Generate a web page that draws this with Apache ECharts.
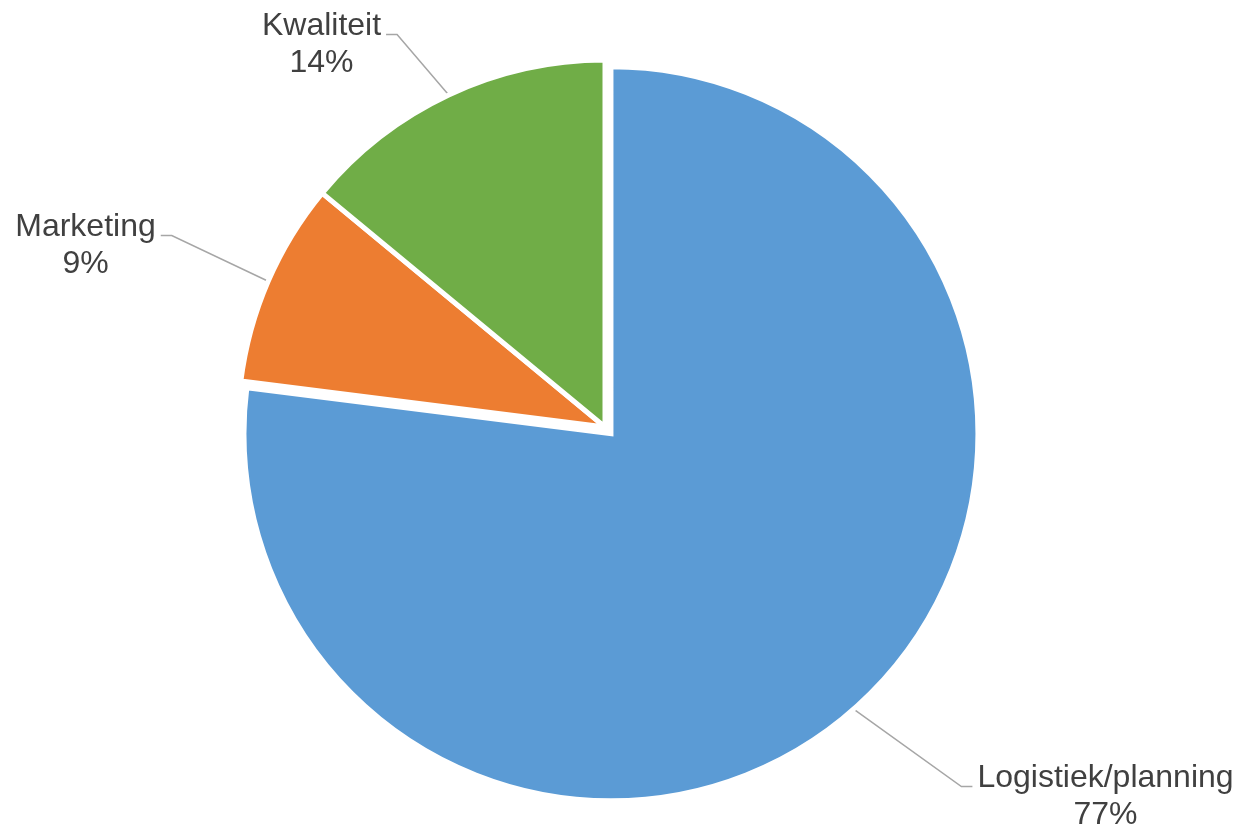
<!DOCTYPE html>
<html>
<head>
<meta charset="utf-8">
<script src="https://cdn.jsdelivr.net/npm/echarts@6/dist/echarts.min.js"></script>
<style>
html,body{margin:0;padding:0;background:#fff;}
#chart{width:1238px;height:828px;}
</style>
</head>
<body>
<div id="chart"></div>
<script>
const categories = ['Logistiek/planning', 'Marketing', 'Kwaliteit'];
const values = [77, 9, 14];
const colors = ['#5B9BD5', '#ED7D31', '#70AD47'];
const exploded = [true, false, false];

// label layout anchors (centre of text block) and which side the leader line enters from
const labelAnchors = [[1105.5, 797, 'left'], [85.5, 246, 'right'], [321.5, 45, 'right']];

const CX = 605, CY = 427, R = 367, EXPLODE = 9;
const total = values.reduce((a, b) => a + b, 0);
// mid-angles of slices, measured clockwise from 12 o'clock
let cum = 0;
const midAngles = values.map(v => { const m = (cum + v / 2) / total * 2 * Math.PI; cum += v; return m; });
const exIdx = exploded.indexOf(true);
const dx = EXPLODE * Math.sin(midAngles[exIdx]);
const dy = -EXPLODE * Math.cos(midAngles[exIdx]);

function labelLayout(params) {
  const a = labelAnchors[params.dataIndex];
  const w = params.labelRect.width;
  const h = params.labelRect.height;
  const lineY = a[1] - h / 2 + 26.5;
  let end, elbow;
  if (a[2] === 'left') {
    end = [a[0] - w / 2 - 5, lineY];
    elbow = [end[0] - 11, lineY];
  } else {
    end = [a[0] + w / 2 + 5, lineY];
    elbow = [end[0] + 11, lineY];
  }
  const start = params.labelLinePoints ? params.labelLinePoints[0] : elbow;
  return {
    x: a[0], y: a[1], align: 'center', verticalAlign: 'middle',
    labelLinePoints: [start, elbow, end]
  };
}

function makeSeries(isExploded) {
  return {
    type: 'pie',
    center: isExploded ? [CX + dx, CY + dy] : [CX, CY],
    radius: [0, R],
    startAngle: 90,
    clockwise: true,
    avoidLabelOverlap: false,
    silent: true,
    itemStyle: { borderColor: '#ffffff', borderWidth: 5, borderJoin: 'miter' },
    label: {
      show: true,
      position: 'outside',
      color: '#404040',
      fontFamily: 'Liberation Sans, Arial, sans-serif',
      fontSize: 32,
      lineHeight: 37,
      align: 'center',
      formatter: p => p.name + '\n' + Math.round(p.percent) + '%'
    },
    labelLine: { show: true, lineStyle: { color: '#A6A6A6', width: 1.5 } },
    labelLayout: labelLayout,
    emphasis: { disabled: true },
    data: categories.map((c, i) => {
      const visible = exploded[i] === isExploded;
      return visible ? {
        name: c, value: values[i], itemStyle: { color: colors[i] }
      } : {
        name: c, value: values[i],
        itemStyle: { color: 'rgba(0,0,0,0)', borderWidth: 0 },
        label: { show: false }, labelLine: { show: false }
      };
    })
  };
}

const chart = echarts.init(document.getElementById('chart'), null, {renderer: 'canvas'});
chart.setOption({
  animation: false,
  backgroundColor: '#ffffff',
  series: [makeSeries(false), makeSeries(true)]
});
</script>
</body>
</html>
